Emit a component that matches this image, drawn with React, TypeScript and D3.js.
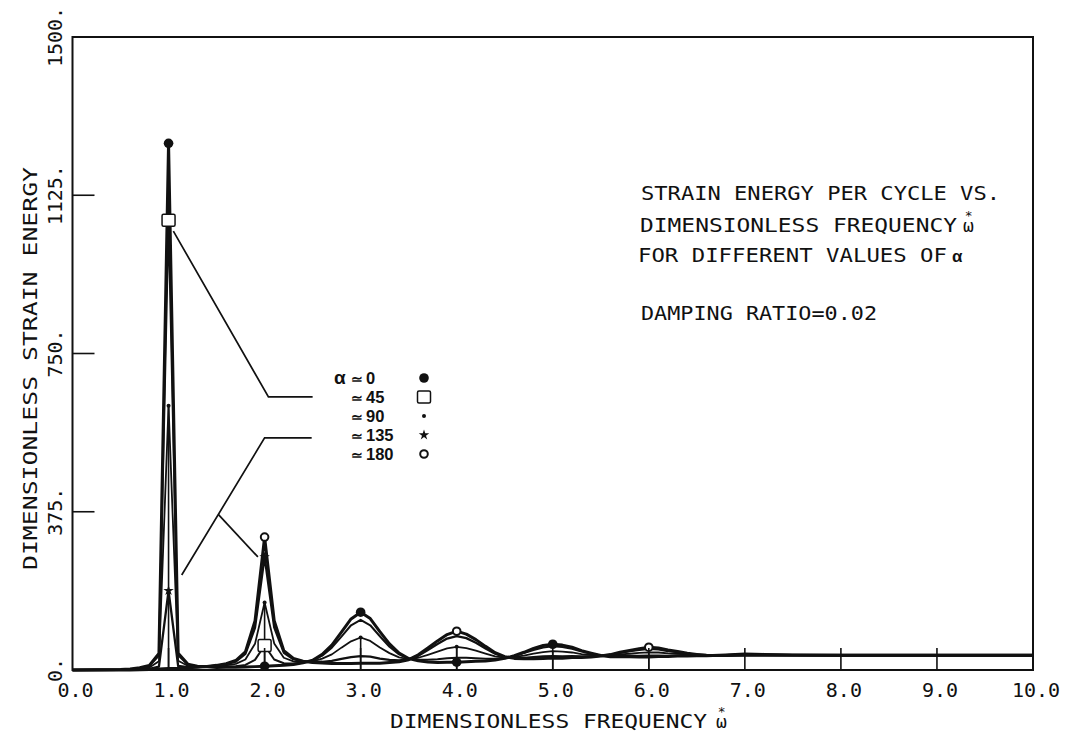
import React from 'react';
import * as d3 from 'd3';

// Dimensionless frequency grid shared by every curve
const FREQ = [
  0.0, 0.5, 0.6, 0.7, 0.8, 0.9, 1.0, 1.1, 1.2, 1.3,
  1.4, 1.5, 1.6, 1.7, 1.8, 1.9, 2.0, 2.1, 2.2, 2.3,
  2.4, 2.5, 2.6, 2.7, 2.8, 2.9, 3.0, 3.1, 3.2, 3.3,
  3.4, 3.5, 3.6, 3.7, 3.8, 3.9, 4.0, 4.1, 4.2, 4.3,
  4.4, 4.5, 4.6, 4.7, 4.8, 4.9, 5.0, 5.1, 5.2, 5.3,
  5.4, 5.5, 5.6, 5.7, 5.8, 5.9, 6.0, 6.1, 6.2, 6.3,
  6.4, 6.5, 6.6, 6.8, 7.0, 7.2, 7.5, 8.0, 9.0, 10.0,
];

// Dimensionless strain energy per cycle, one list per load angle alpha
const ENERGY_A0 = [
  0, 1, 2.5, 5.5, 11, 39, 1248, 40, 14, 9,
  7.5, 6, 6.5, 6.5, 7, 8, 9, 10, 11, 13,
  17, 23, 37, 59, 90, 121, 137, 122, 91, 62,
  40, 27, 22, 19, 18, 18.5, 18.5, 19.5, 20.5, 21.5,
  23.5, 27.5, 34, 42, 51, 58, 61, 59, 54, 46,
  40, 34.5, 31.5, 31.5, 31.5, 31, 31, 32, 32, 33,
  33, 34, 34, 35.5, 38, 37, 35.5, 35, 35, 35,
];
const ENERGY_A45 = [
  0, 1, 2, 5, 9.5, 34, 1066, 35, 13, 8.5,
  7.5, 7, 8, 9, 12, 24, 58, 25, 16, 15.5,
  17.5, 22, 34, 53, 79, 106, 119, 106, 80, 55,
  37, 27, 24, 24, 25.5, 28, 29, 29, 28, 26.5,
  26.5, 28, 33, 40, 47.5, 53.5, 56, 54.5, 50.5, 43.5,
  38.5, 34.5, 32.5, 33, 33.5, 34, 34.5, 34.5, 34, 34.5,
  34, 34.5, 34, 35.5, 37.5, 36.5, 35.5, 35, 35, 35,
];
const ENERGY_A90 = [
  0, 0.5, 1.3, 3, 6, 21, 626, 22, 10, 7.5,
  8, 8.5, 11, 14.5, 25, 62, 160, 63, 29, 20.5,
  19, 20.5, 27, 37, 53, 68, 77, 69, 53.5, 40,
  30, 26, 29, 36, 43.5, 51, 55, 52, 46, 39,
  32.5, 29.5, 31, 34, 39, 42.5, 44.5, 43.5, 41.5, 37.5,
  35.5, 34, 34, 37, 38.5, 40.5, 42, 41.5, 39.5, 38.5,
  36.5, 35.5, 34.5, 35, 36.5, 36, 35.2, 35, 35, 35,
];
const ENERGY_A135 = [
  0, 0.2, 0.4, 1.2, 2.6, 8, 188, 9.5, 7, 7,
  8.5, 10.5, 14, 20, 38, 100, 268, 101, 41, 25.5,
  20.5, 18.5, 19.5, 21.5, 26.5, 30.5, 33, 31.5, 27, 24,
  22.5, 25, 34, 47.5, 61.5, 74.5, 80, 75.5, 64.5, 51,
  38.5, 31, 28.5, 28.5, 30.5, 32, 33, 32.5, 33, 32,
  32.5, 33.5, 36, 40.5, 44.5, 48, 50, 49, 45, 42.5,
  38.5, 36.5, 35, 34.8, 35.5, 35.4, 35.1, 35, 35, 35,
];
const ENERGY_A180 = [
  0, 0, 0, 0.5, 1.2, 2.4, 3.6, 4, 5.5, 6.5,
  8.5, 11, 15, 22.5, 43, 116, 315, 117, 46, 27.5,
  21, 18, 16.5, 15.5, 15.5, 15.5, 16, 16, 16, 17.5,
  19.5, 24.5, 36, 52, 69, 84, 92, 85, 72, 56,
  41, 31.5, 27.5, 26.5, 26.5, 27.5, 28.5, 28, 29.5, 29.5,
  31, 33, 36.5, 42, 46, 50.5, 54, 52, 47.5, 44,
  39.5, 37, 35, 34.6, 35, 35, 35, 35, 35, 35,
];

const ALPHA_LABELS = ['0', '45', '90', '135', '180'];

// Resonance frequencies and which alpha curves carry a symbol there
const PEAK_FREQS = [1, 2, 3, 4, 5, 6];
const PEAK_MARKED_SERIES = [
  [0, 1, 2, 3],
  [0, 1, 2, 3, 4],
  [0, 2],
  [0, 2, 4],
  [0],
  [4],
];

const X_TICKS = [0, 1, 2, 3, 4, 5, 6, 7, 8, 9, 10];
const X_TICK_LABELS = ['0.0', '1.0', '2.0', '3.0', '4.0', '5.0', '6.0', '7.0', '8.0', '9.0', '10.0'];
const Y_TICKS = [0, 375, 750, 1125, 1500];
const Y_TICK_LABELS = ['0.', '375.', '750.', '1125.', '1500.'];

// Leader lines from the curves to the legend, in data coordinates
const LEADER_45: [number, number][] = [[1.05, 1040], [2.04, 647], [2.5, 647]];
const LEADER_135: [number, number][] = [[1.137, 225], [2.0, 550], [2.49, 550]];
const LEADER_135_BRANCH: [number, number][] = [[1.52, 368], [1.93, 268]];

const NOTE_LINES = ['STRAIN ENERGY PER CYCLE VS.', 'DIMENSIONLESS FREQUENCY', 'FOR DIFFERENT VALUES OF', 'DAMPING RATIO=0.02'];

type MarkerKind = 'disc' | 'square' | 'dot' | 'star' | 'ring';

const SERIES_STYLE: { values: number[]; marker: MarkerKind; width: number }[] = [
  { values: ENERGY_A0, marker: 'disc', width: 3 },
  { values: ENERGY_A45, marker: 'square', width: 2 },
  { values: ENERGY_A90, marker: 'dot', width: 1.8 },
  { values: ENERGY_A135, marker: 'star', width: 2.3 },
  { values: ENERGY_A180, marker: 'ring', width: 3 },
];

const W = 1067;
const H = 741;
const LEFT = 72.5;
const RIGHT = 1033;
const TOP = 37;
const BOTTOM = 670;
const INK = '#111';
const PLOT_FONT = "'DejaVu Sans Mono', monospace";
const LEGEND_FONT = "'Liberation Sans', Arial, sans-serif";

const x = d3.scaleLinear().domain([0, 10]).range([LEFT, RIGHT]);
const y = d3.scaleLinear().domain([0, 1500]).range([BOTTOM, TOP]);

const starPath = d3.symbol().type(d3.symbolStar).size(34)() as string;

function Marker({ kind, cx, cy }: { kind: MarkerKind; cx: number; cy: number }) {
  switch (kind) {
    case 'disc':
      return <circle cx={cx} cy={cy} r={4.8} fill={INK} />;
    case 'square':
      return <rect x={cx - 6.5} y={cy - 6} width={13} height={12} rx={1.5} fill="white" stroke={INK} strokeWidth={1.5} />;
    case 'dot':
      return <circle cx={cx} cy={cy} r={2} fill={INK} />;
    case 'star':
      return <path d={starPath} transform={`translate(${cx},${cy})`} fill={INK} />;
    case 'ring':
      return <circle cx={cx} cy={cy} r={3.8} fill="white" stroke={INK} strokeWidth={2} />;
  }
}

export default function App() {
  const line = d3
    .line<[number, number]>()
    .x((d) => x(d[0]))
    .y((d) => y(d[1]))
    .curve(d3.curveLinear);

  const leader = d3
    .line<[number, number]>()
    .x((d) => x(d[0]))
    .y((d) => y(d[1]));

  const series = SERIES_STYLE.map((s) => ({
    ...s,
    points: FREQ.map((f, i) => [f, s.values[i]] as [number, number]),
  }));

  const valueAt = (values: number[], f: number) => values[FREQ.indexOf(f)];

  const legendRows = [378, 397, 416, 435, 454];

  return (
    <svg
      width={W}
      height={H}
      viewBox={`0 0 ${W} ${H}`}
      style={{ position: 'absolute', left: 0, top: 0, background: 'white' }}
    >
      <rect x={0} y={0} width={W} height={H} fill="white" />

      {/* stems at the resonance frequencies */}
      {PEAK_FREQS.map((f) => (
        <line
          key={`stem-${f}`}
          x1={x(f)}
          x2={x(f)}
          y1={y(0)}
          y2={y(valueAt(ENERGY_A90, f))}
          stroke={INK}
          strokeWidth={1.6}
        />
      ))}

      {/* response curves */}
      {series.map((s, i) => (
        <path
          key={`curve-${i}`}
          d={line(s.points) as string}
          fill="none"
          stroke={INK}
          strokeWidth={s.width}
          strokeLinejoin="round"
        />
      ))}

      {/* symbols at the resonance frequencies */}
      {PEAK_FREQS.map((f, k) =>
        PEAK_MARKED_SERIES[k].map((si) => (
          <Marker
            key={`m-${si}-${f}`}
            kind={series[si].marker}
            cx={x(f)}
            cy={y(valueAt(series[si].values, f))}
          />
        ))
      )}

      {/* leader lines */}
      {[LEADER_45, LEADER_135, LEADER_135_BRANCH].map((pts, i) => (
        <path key={`leader-${i}`} d={leader(pts) as string} fill="none" stroke={INK} strokeWidth={1.7} />
      ))}

      {/* frame */}
      <rect
        x={LEFT}
        y={TOP}
        width={RIGHT - LEFT}
        height={BOTTOM - TOP}
        fill="none"
        stroke={INK}
        strokeWidth={2}
      />

      {/* tick marks */}
      {X_TICKS.slice(1, -1).map((t) => (
        <line key={`xt-${t}`} x1={x(t)} x2={x(t)} y1={BOTTOM} y2={BOTTOM - 22} stroke={INK} strokeWidth={1.6} />
      ))}
      {Y_TICKS.slice(1, -1).map((t) => (
        <line key={`yt-${t}`} x1={LEFT} x2={LEFT + 22} y1={y(t)} y2={y(t)} stroke={INK} strokeWidth={1.6} />
      ))}

      {/* tick labels */}
      <g fontFamily={PLOT_FONT} fontSize={20} fill={INK}>
        {X_TICKS.map((t, i) => (
          <text key={`xl-${t}`} x={x(t) + 3} y={697} textAnchor="middle">
            {X_TICK_LABELS[i]}
          </text>
        ))}
        {Y_TICKS.map((t, i) => (
          <text key={`yl-${t}`} transform={`translate(62,${y(t)}) rotate(-90)`} textAnchor="middle">
            {Y_TICK_LABELS[i]}
          </text>
        ))}

        {/* axis titles */}
        <text x={390} y={728} textLength={317} lengthAdjust="spacingAndGlyphs">
          DIMENSIONLESS FREQUENCY
        </text>
        <text x={716} y={728} fontSize={18}>
          ω<tspan dx={-9} dy={-12} fontSize={13}>*</tspan>
        </text>
        <text
          transform="translate(37,368.5) rotate(-90)"
          textAnchor="middle"
          textLength={403}
          lengthAdjust="spacingAndGlyphs"
        >
          DIMENSIONLESS STRAIN ENERGY
        </text>

        {/* note block */}
        <text x={641} y={200} textLength={359} lengthAdjust="spacingAndGlyphs">{NOTE_LINES[0]}</text>
        <text x={640} y={232} textLength={317} lengthAdjust="spacingAndGlyphs">{NOTE_LINES[1]}</text>
        <text x={963} y={232} fontSize={18}>
          ω<tspan dx={-9} dy={-12} fontSize={13}>*</tspan>
        </text>
        <text x={638} y={262} textLength={309} lengthAdjust="spacingAndGlyphs">{NOTE_LINES[2]}</text>
        <text x={952} y={262} fontFamily={LEGEND_FONT} fontWeight="bold" fontSize={17}>α</text>
        <text x={641} y={320} textLength={236} lengthAdjust="spacingAndGlyphs">{NOTE_LINES[3]}</text>
      </g>

      {/* legend */}
      <g fontFamily={LEGEND_FONT} fontWeight="bold" fill={INK}>
        <text x={334} y={legendRows[0] + 6} fontSize={19}>α</text>
        {ALPHA_LABELS.map((lab, i) => (
          <g key={`lg-${lab}`}>
            <text x={351} y={legendRows[i] + 6} fontSize={14}>≃</text>
            <text x={366} y={legendRows[i] + 6} fontSize={16.5}>{lab}</text>
            <Marker kind={SERIES_STYLE[i].marker} cx={424} cy={legendRows[i]} />
          </g>
        ))}
      </g>
    </svg>
  );
}
